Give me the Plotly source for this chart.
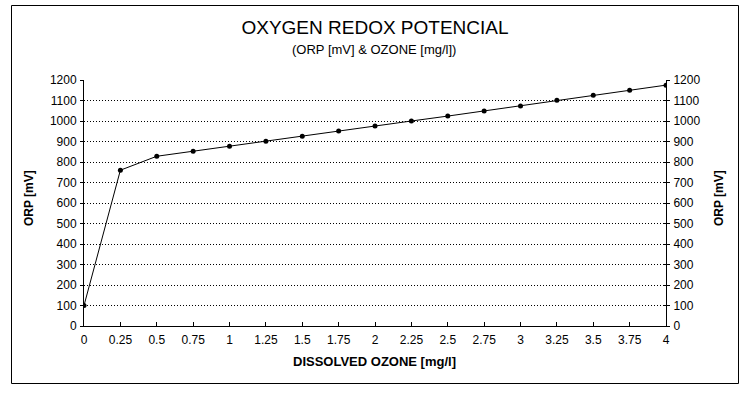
import plotly.graph_objects as go

# ---- data ----
ozone_mg_l = [0, 0.25, 0.5, 0.75, 1, 1.25, 1.5, 1.75, 2, 2.25, 2.5, 2.75, 3, 3.25, 3.5, 3.75, 4]
orp_mv = [100, 760, 828, 853, 877, 901, 926, 951, 975, 1000, 1024, 1049, 1073, 1101, 1126, 1150, 1175]
x_tickvals = [0, 0.25, 0.5, 0.75, 1, 1.25, 1.5, 1.75, 2, 2.25, 2.5, 2.75, 3, 3.25, 3.5, 3.75, 4]
x_ticktext = ["0", "0.25", "0.5", "0.75", "1", "1.25", "1.5", "1.75", "2", "2.25", "2.5", "2.75", "3", "3.25", "3.5", "3.75", "4"]
y_tickvals = list(range(0, 1201, 100))

title_text = "OXYGEN REDOX POTENCIAL"
subtitle_text = "(ORP [mV] &amp; OZONE [mg/l])"
x_title = "DISSOLVED OZONE [mg/l]"
y_title = "ORP [mV]"

# ---- layout geometry (pixels) ----
W, H = 752, 395
L, R, T, B = 84, 666, 80, 326
FONT = "Arial, Liberation Sans, sans-serif"


def px_x(p):
    return (p - L) / (R - L)


def px_y(p):
    return (B - p) / (B - T)


fig = go.Figure()
fig.add_trace(go.Scatter(
    x=ozone_mg_l, y=orp_mv, mode="lines+markers",
    line=dict(color="black", width=1),
    marker=dict(color="black", size=5),
    showlegend=False, hoverinfo="x+y",
))
# invisible traces to activate secondary axes
fig.add_trace(go.Scatter(x=[ozone_mg_l[0]], y=[orp_mv[0]], yaxis="y2", mode="markers",
                         marker=dict(opacity=0), showlegend=False, hoverinfo="skip"))
fig.add_trace(go.Scatter(x=[ozone_mg_l[0]], y=[orp_mv[0]], yaxis="y3", mode="markers",
                         marker=dict(opacity=0), showlegend=False, hoverinfo="skip"))

tickfont = dict(family=FONT, size=12, color="black")

fig.update_layout(
    width=W, height=H,
    margin=dict(l=L, r=W - R, t=T, b=H - B, pad=0),
    paper_bgcolor="white", plot_bgcolor="white",
    font=dict(family=FONT, color="black"),
    xaxis=dict(
        range=[0, 4], tickvals=x_tickvals, ticktext=x_ticktext,
        showgrid=False, zeroline=False, showline=True, linecolor="black", linewidth=1,
        ticks="inside", ticklen=4, tickcolor="black", tickwidth=1,
        tickfont=tickfont, ticklabelstandoff=3, fixedrange=True,
    ),
    yaxis=dict(
        range=[0, 1200], tickvals=y_tickvals,
        showgrid=True, gridcolor="black", gridwidth=1, griddash="1px,2px",
        zeroline=False, showline=True, linecolor="black", linewidth=1,
        ticks="outside", ticklen=3, tickcolor="black", tickwidth=1,
        tickfont=tickfont, ticklabelstandoff=1, fixedrange=True,
    ),
    yaxis2=dict(
        range=[0, 1200], tickvals=y_tickvals, overlaying="y", side="right", anchor="x",
        showgrid=False, zeroline=False, showline=True, linecolor="black", linewidth=1,
        ticks="outside", ticklen=3, tickcolor="black", tickwidth=1,
        tickfont=tickfont, ticklabelstandoff=1, fixedrange=True,
    ),
    yaxis3=dict(
        range=[0, 1200], tickvals=y_tickvals, overlaying="y", side="right", anchor="x",
        showgrid=False, zeroline=False, showline=False, showticklabels=False,
        ticks="inside", ticklen=3, tickcolor="black", tickwidth=1, fixedrange=True,
    ),
    title=dict(
        text=title_text, x=0.5, xref="paper", xanchor="center",
        y=1 - 27 / H, yref="container", yanchor="middle",
        font=dict(family=FONT, size=19, color="black"),
    ),
    shapes=[dict(
        type="rect", xref="paper", yref="paper",
        x0=px_x(11.5), x1=px_x(738.5), y0=px_y(383.5), y1=px_y(5.5),
        line=dict(color="black", width=1), fillcolor="rgba(0,0,0,0)", layer="below",
    )],
    annotations=[
        dict(text=subtitle_text, xref="paper", yref="paper", x=px_x(374), y=px_y(49),
             xanchor="center", yanchor="middle", showarrow=False,
             font=dict(family=FONT, size=13, color="black")),
        dict(text="<b>" + x_title + "</b>", xref="paper", yref="paper", x=px_x(374), y=px_y(361),
             xanchor="center", yanchor="middle", showarrow=False,
             font=dict(family=FONT, size=13, color="black")),
        dict(text="<b>" + y_title + "</b>", xref="paper", yref="paper", x=px_x(29), y=px_y(198),
             xanchor="center", yanchor="middle", showarrow=False, textangle=-90,
             font=dict(family=FONT, size=12, color="black")),
        dict(text="<b>" + y_title + "</b>", xref="paper", yref="paper", x=px_x(719), y=px_y(198),
             xanchor="center", yanchor="middle", showarrow=False, textangle=-90,
             font=dict(family=FONT, size=12, color="black")),
    ],
)

fig.write_html(
    "out.html",
    config=dict(displayModeBar=False),
    post_script="document.body.style.margin='0';document.body.style.padding='0';document.body.style.overflow='hidden';",
)
